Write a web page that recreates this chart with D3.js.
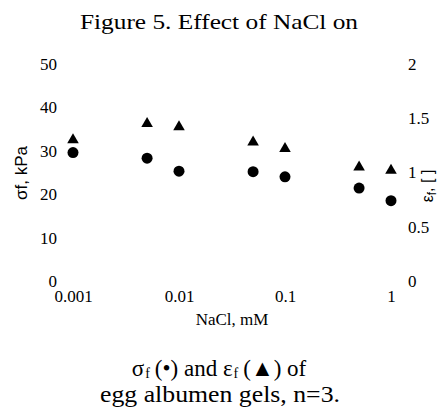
<!DOCTYPE html>
<html>
<head>
<meta charset="utf-8">
<script src="https://cdn.jsdelivr.net/npm/d3@7"></script>
<style>
  html, body { margin: 0; padding: 0; background: #fff; }
  svg { display: block; }
  text { fill: #000; }
  .serif { font-family: "Liberation Serif", "Times New Roman", Times, serif; }
  .sans { font-family: "Liberation Sans", Arial, Helvetica, sans-serif; }
</style>
</head>
<body>
<svg id="chart" width="439" height="412"></svg>
<script>
// ---- data ----
const nacl = [0.001, 0.005, 0.01, 0.05, 0.1, 0.5, 1];          // NaCl, mM
const stress = [29.6, 28.3, 25.3, 25.2, 24.0, 21.4, 18.5];      // sigma_f, kPa (circles, left axis)
const strain = [1.30, 1.45, 1.42, 1.28, 1.22, 1.05, 1.02];      // epsilon_f (triangles, right axis)
const xTicks = [0.001, 0.01, 0.1, 1];
const leftTicks = [0, 10, 20, 30, 40, 50];
const rightTicks = [0, 0.5, 1, 1.5, 2];

const svg = d3.select("#chart");
svg.append("rect").attr("width", 439).attr("height", 412).attr("fill", "#fff");

const x = d3.scaleLog().domain([0.001, 1]).range([73, 391]);
const yL = d3.scaleLinear().domain([0, 50]).range([281, 64]);
const yR = d3.scaleLinear().domain([0, 2]).range([281, 64]);

// title
svg.append("text").attr("class", "serif")
  .attr("x", 219).attr("y", 29)
  .attr("text-anchor", "middle")
  .style("font-size", "21px")
  .attr("textLength", 278).attr("lengthAdjust", "spacingAndGlyphs")
  .text("Figure 5. Effect of NaCl on");

function styleAxis(g, size) {
  g.attr("font-family", null).attr("font-size", null);
  g.select(".domain").remove();
  g.selectAll(".tick line").remove();
  g.selectAll(".tick text").attr("class", "serif").style("font-size", size + "px").attr("fill", "#000");
}

// left axis
svg.append("g").attr("transform", "translate(57,0)")
  .call(d3.axisLeft(yL).tickValues(leftTicks).tickSize(0).tickPadding(0).tickFormat(d3.format("d")))
  .call(g => styleAxis(g, 17));

// right axis
svg.append("g").attr("transform", "translate(408,0)")
  .call(d3.axisRight(yR).tickValues(rightTicks).tickSize(0).tickPadding(0).tickFormat(d => String(d)))
  .call(g => styleAxis(g, 17));

// bottom axis (labels only)
svg.append("g").attr("transform", "translate(0,290)")
  .call(d3.axisBottom(x).tickValues(xTicks).tickSize(0).tickPadding(0).tickFormat(d => String(d)))
  .call(g => styleAxis(g, 17));

// axis titles
svg.append("text").attr("class", "serif")
  .attr("x", 232).attr("y", 325)
  .attr("text-anchor", "middle")
  .style("font-size", "17px")
  .text("NaCl, mM");

svg.append("text").attr("class", "sans")
  .attr("transform", "translate(27,173) rotate(-90)")
  .attr("text-anchor", "middle")
  .style("font-size", "17px")
  .text("σf, kPa");

const rt = svg.append("text").attr("class", "sans")
  .attr("transform", "translate(433,186) rotate(-90)")
  .attr("text-anchor", "middle")
  .style("font-size", "16px");
rt.append("tspan").text("ε");
rt.append("tspan").style("font-size", "12px").attr("baseline-shift", "-3").text("f");
rt.append("tspan").text(", [ ]");

// points: circles (stress, left axis)
svg.append("g").selectAll("circle")
  .data(nacl)
  .join("circle")
  .attr("cx", d => x(d))
  .attr("cy", (d, i) => yL(stress[i]))
  .attr("r", 5.5)
  .attr("fill", "#000");

// points: triangles (strain, right axis)
const tri = d3.symbol().type(d3.symbolTriangle).size(58);
svg.append("g").selectAll("path")
  .data(nacl)
  .join("path")
  .attr("transform", (d, i) => `translate(${x(d)},${yR(strain[i])})`)
  .attr("d", tri)
  .attr("fill", "#000");

// caption line 1: pieces laid out side by side (subscripts as separate texts)
const pieces = [
  { t: "σ", size: 23, dy: 0, gap: 0 },
  { t: "f", size: 14, dy: 2, gap: 1 },
  { t: "(•) and ε", size: 23, dy: 0, gap: 5 },
  { t: "f", size: 14, dy: 2, gap: 1 },
  { t: "(▲) of", size: 23, dy: 0, gap: 5 }
];
const cap = svg.append("g");
let cx = 0;
pieces.forEach(p => {
  cx += p.gap;
  const el = cap.append("text").attr("class", "serif")
    .style("font-size", p.size + "px")
    .attr("x", cx).attr("y", 376 + p.dy)
    .text(p.t);
  cx += el.node().getComputedTextLength();
});
cap.attr("transform", `translate(${219 - cx / 2},0)`);

svg.append("text").attr("class", "serif")
  .attr("x", 220).attr("y", 402)
  .attr("text-anchor", "middle")
  .style("font-size", "23px")
  .attr("textLength", 240).attr("lengthAdjust", "spacingAndGlyphs")
  .text("egg albumen gels, n=3.");
</script>
</body>
</html>
